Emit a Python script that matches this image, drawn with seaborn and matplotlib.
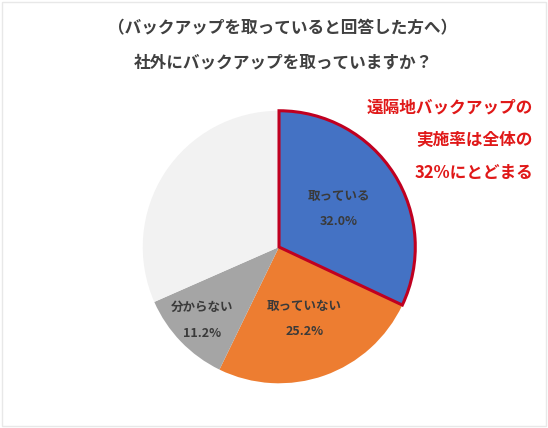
import numpy as np
import matplotlib
matplotlib.use("Agg")
import matplotlib.pyplot as plt
import seaborn as sns

# ---- data ----
categories = ["取っている", "取っていない", "分からない", "無回答"]
values = [32.0, 25.2, 11.2, 31.6]
show_label = [True, True, True, False]
title_lines = ["（バックアップを取っていると回答した方へ）", "社外にバックアップを取っていますか？"]
note_lines = ["遠隔地バックアップの", "実施率は全体の", "32%にとどまる"]

sns.set_theme(style="white")
plt.rcParams['font.family'] = ['Noto Sans CJK JP', 'DejaVu Sans']

colors = ["#4472C4", "#ED7D31", "#A5A5A5", "#F2F2F2"]
label_dist = [0.52, 0.56, 0.78, 0.6]

fig = plt.figure(figsize=(5.48, 4.28), dpi=100)
fig.patch.set_facecolor("white")

ax = fig.add_axes([0.2555, 0.0981, 0.5073, 0.6495])
wedges, _ = ax.pie(values, colors=colors, startangle=90, counterclock=False,
                   radius=1.0, wedgeprops=dict(linewidth=0))
wedges[0].set_edgecolor("#C00020")
wedges[0].set_linewidth(2.2)
wedges[0].set_zorder(5)
ax.set_xlim(-1.02, 1.02)
ax.set_ylim(-1.02, 1.02)
ax.set_aspect("equal")
ax.axis("off")

for w, cat, v, show, d in zip(wedges, categories, values, show_label, label_dist):
    if not show:
        continue
    ang = np.deg2rad((w.theta1 + w.theta2) / 2)
    x, y = d * np.cos(ang), d * np.sin(ang)
    ax.text(x, y + 0.095, cat, ha="center", va="center", fontsize=9,
            fontweight="bold", color="#3a3a3a", zorder=10)
    ax.text(x, y - 0.095, f"{v:.1f}%", ha="center", va="center", fontsize=9,
            fontweight="bold", color="#3a3a3a", zorder=10)

# titles
fig.text(283 / 548, 1 - 28 / 428, title_lines[0], ha="center", va="center",
         fontsize=12, fontweight="bold", color="#404040")
fig.text(283 / 548, 1 - 62 / 428, title_lines[1], ha="center", va="center",
         fontsize=12, fontweight="bold", color="#404040")

# red note
for i, line in enumerate(note_lines):
    fig.text(533 / 548, 1 - (107 + i * 33) / 428, line, ha="right", va="center",
             fontsize=12, fontweight="bold", color="#E01818")

# faint frame
fig.add_artist(plt.Rectangle((0.004, 0.004), 0.992, 0.992, transform=fig.transFigure,
                             fill=False, edgecolor="#e8e8e8", linewidth=1))

fig.savefig("out.png", dpi=100, facecolor="white")
